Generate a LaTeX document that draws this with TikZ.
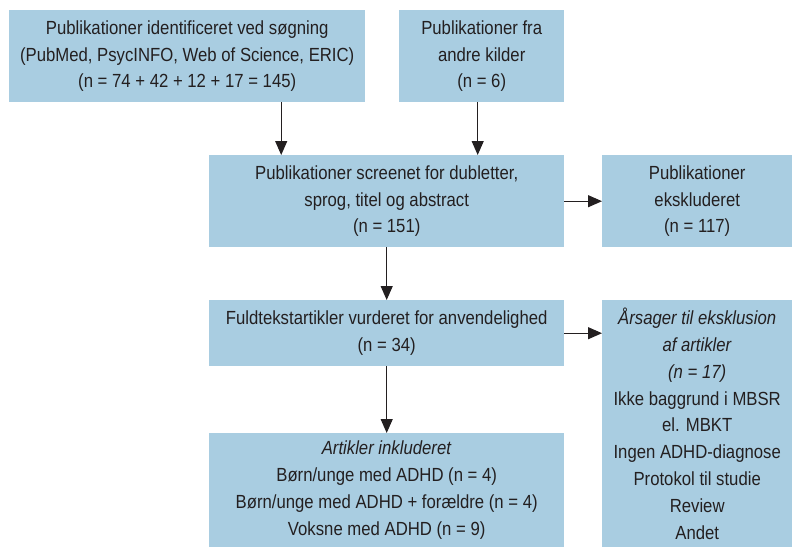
\documentclass[tikz,border=0pt]{standalone}
\usepackage{fontspec}
\setmainfont[FakeStretch=0.88]{Liberation Sans}
\usetikzlibrary{arrows.meta}
\definecolor{boxblue}{HTML}{A9CDE1}
\definecolor{txt}{HTML}{231F20}
\tikzset{
  box/.style={fill=boxblue, draw=none, anchor=north west, inner sep=0pt, align=center,
    text=txt, font=\fontsize{19}{26.8}\selectfont},
  arr/.style={-{Triangle[length=14pt,width=12pt]}, line width=1.1pt, draw=txt}
}
\begin{document}
\begin{tikzpicture}[x=1pt,y=1pt]
\useasboundingbox (0,0) rectangle (792,-547);
\node[box, minimum width=356, minimum height=92] (b1) at (9,-10)
  {Publikationer identificeret ved søgning\\(PubMed, PsycINFO, Web of Science, ERIC)\\(n = 74 + 42 + 12 + 17 = 145)};
\node[box, minimum width=165, minimum height=92] (b2) at (399,-10)
  {Publikationer fra\\andre kilder\\(n = 6)};
\node[box, minimum width=355, minimum height=92] (b3) at (209,-155)
  {Publikationer screenet for dubletter,\\sprog, titel og abstract\\(n = 151)};
\node[box, minimum width=190, minimum height=92] (b4) at (602,-155)
  {Publikationer\\ekskluderet\\(n = 117)};
\node[box, minimum width=355, minimum height=66] (b5) at (209,-300)
  {Fuldtekstartikler vurderet for anvendelighed\\(n = 34)};
\node[box, minimum width=190, minimum height=247] (b6) at (602,-300)
  {\textit{Årsager til eksklusion}\\\textit{af artikler}\\\textit{(n = 17)}\\Ikke baggrund i MBSR\\el. MBKT\\Ingen ADHD-diagnose\\Protokol til studie\\Review\\Andet};
\node[box, minimum width=355, minimum height=114] (b7) at (209,-433)
  {\textit{Artikler inkluderet}\\Børn/unge med ADHD (n = 4)\\Børn/unge med ADHD + forældre (n = 4)\\Voksne med ADHD (n = 9)};
\draw[arr] ([xshift=94pt]b1.south) -- ([xshift=94pt]b1.south |- b3.north);
\draw[arr] ([xshift=-4pt]b2.south) -- ([xshift=-4pt]b2.south |- b3.north);
\draw[arr] (b3.east) -- (b3.east -| b4.west);
\draw[arr] (b3.south) -- (b5.north);
\draw[arr] (b5.east) -- (b5.east -| b6.west);
\draw[arr] (b5.south) -- (b7.north);
\end{tikzpicture}
\end{document}
